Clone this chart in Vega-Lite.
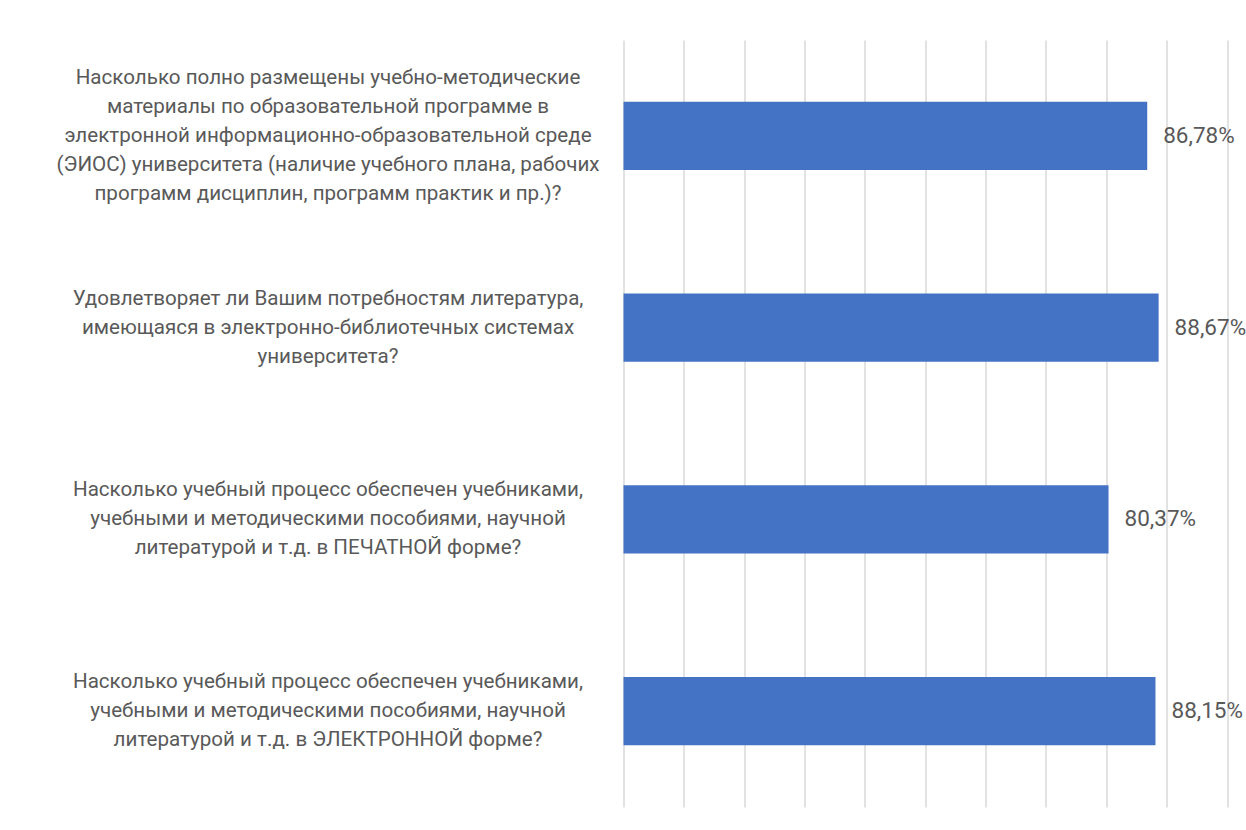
{
  "$schema": "https://vega.github.io/schema/vega-lite/v6.json",
  "width": 603.5,
  "height": 767,
  "autosize": {"type": "none"},
  "padding": {"left": 623.5, "top": 40, "right": 19, "bottom": 23},
  "data": {
    "values": [
      {"q": "Насколько полно размещены учебно-методические|материалы по образовательной программе в|электронной информационно-образовательной среде|(ЭИОС) университета (наличие учебного плана, рабочих|программ дисциплин, программ практик и пр.)?", "v": 0.8678},
      {"q": "Удовлетворяет ли Вашим потребностям литература,|имеющаяся в электронно-библиотечных системах|университета?", "v": 0.8867},
      {"q": "Насколько учебный процесс обеспечен учебниками,|учебными и методическими пособиями, научной|литературой и т.д. в ПЕЧАТНОЙ форме?", "v": 0.8037},
      {"q": "Насколько учебный процесс обеспечен учебниками,|учебными и методическими пособиями, научной|литературой и т.д. в ЭЛЕКТРОННОЙ форме?", "v": 0.8815}
    ]
  },
  "encoding": {
    "y": {
      "field": "q",
      "type": "nominal",
      "sort": null,
      "scale": {"paddingInner": 0.645, "paddingOuter": 0.3225},
      "axis": {
        "title": null,
        "ticks": false,
        "domain": false,
        "labelExpr": "split(datum.label, '|')",
        "labelAlign": "center",
        "labelBaseline": "middle",
        "labelOffset": {"condition": {"test": "length(split(datum.label, '|')) == 5", "value": -58}, "value": -29},
        "labelPadding": 296,
        "labelLimit": 0,
        "labelFont": "Roboto",
        "labelFontSize": 20.6,
        "labelLineHeight": 29,
        "labelColor": "#595959"
      }
    }
  },
  "layer": [
    {
      "mark": {"type": "bar", "color": "#4472C4"},
      "encoding": {
        "x": {
          "field": "v",
          "type": "quantitative",
          "scale": {"domain": [0, 1], "nice": false},
          "axis": {
            "title": null,
            "values": [0, 0.1, 0.2, 0.3, 0.4, 0.5, 0.6, 0.7, 0.8, 0.9, 1],
            "grid": true,
            "gridColor": "#d9d9d9",
            "gridWidth": 1.5,
            "labels": false,
            "ticks": false,
            "domain": false
          }
        }
      }
    },
    {
      "mark": {"type": "text", "align": "left", "baseline": "middle", "dx": 16, "font": "Roboto", "fontSize": 22.5, "color": "#595959"},
      "encoding": {
        "x": {"field": "v", "type": "quantitative"},
        "text": {"field": "v", "type": "quantitative", "format": ".2%"}
      }
    }
  ],
  "config": {
    "view": {"stroke": null},
    "locale": {"number": {"decimal": ",", "thousands": " ", "grouping": [3], "currency": ["", " ₽"]}}
  }
}
